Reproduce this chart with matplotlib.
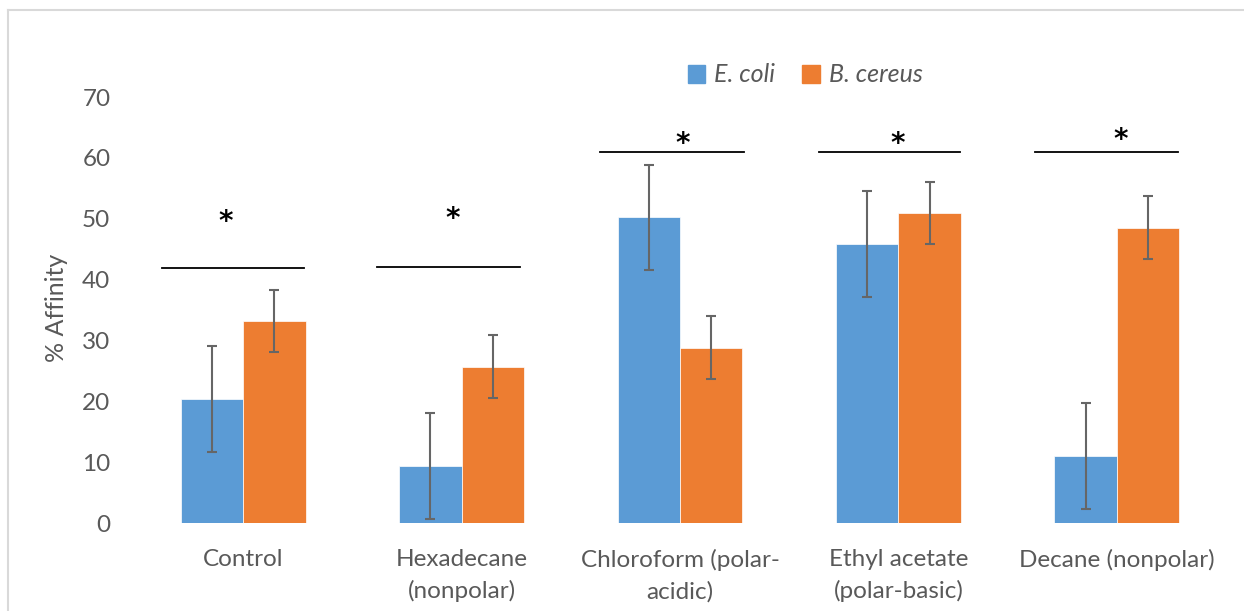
import numpy as np
import matplotlib
matplotlib.use('Agg')
from matplotlib import pyplot as plt
from matplotlib.patches import Patch
from matplotlib.lines import Line2D

# values
categories = ['Control', 'Hexadecane\n(nonpolar)', 'Chloroform (polar-\nacidic)',
              'Ethyl acetate\n(polar-basic)', 'Decane (nonpolar)']
ecoli = [20.4, 9.3, 50.2, 45.8, 11.0]
ecoli_err = [8.7, 8.7, 8.7, 8.7, 8.7]
bcereus = [33.2, 25.7, 28.8, 50.9, 48.5]
bcereus_err = [5.15, 5.15, 5.15, 5.1, 5.2]

# significance brackets (start, end, height) and star positions
sig_x0 = [-0.371, 0.613, 1.634, 2.636, 3.625]
sig_x1 = [0.279, 1.268, 2.293, 3.281, 4.279]
sig_y = [41.9, 42.1, 61.0, 61.0, 61.0]
star_x = [-0.082, 0.961, 2.014, 2.998, 4.018]
star_y = [49.5, 49.9, 62.3, 62.3, 63.0]

blue = '#5B9BD5'
orange = '#ED7D31'
grey = '#595959'
font = 'Lato'

fig = plt.figure(figsize=(12.44, 6.11), dpi=100)
ax = fig.add_axes([134/1244, 1 - 523/611, (1226 - 134)/1244, (523 - 97)/611])

x = np.arange(len(categories))
w = 0.286
ax.bar(x - w/2, ecoli, w, color=blue, edgecolor='white', linewidth=0.5)
ax.bar(x + w/2, bcereus, w, color=orange, edgecolor='white', linewidth=0.5)
ax.errorbar(x - w/2, ecoli, yerr=ecoli_err, fmt='none', ecolor='#666666',
            elinewidth=1.5, capsize=3.5, capthick=1.5)
ax.errorbar(x + w/2, bcereus, yerr=bcereus_err, fmt='none', ecolor='#666666',
            elinewidth=1.5, capsize=3.5, capthick=1.5)

for i in range(len(categories)):
    ax.plot([sig_x0[i], sig_x1[i]], [sig_y[i], sig_y[i]], color='black', lw=1.3, clip_on=False)
    ax.text(star_x[i], star_y[i], '*', ha='center', va='center', fontsize=20,
            fontweight='bold', color='black', family='DejaVu Sans')

ax.set_xlim(-0.5, 4.5)
ax.set_ylim(0, 70)
ax.set_yticks(np.arange(0, 71, 10))
ax.set_xticks(x)
ax.set_xticklabels(categories, family=font, fontsize=17.5, color=grey, linespacing=1.55)
for lab in ax.get_yticklabels():
    lab.set_family(font)
    lab.set_fontsize(17.5)
    lab.set_color(grey)
ax.tick_params(axis='y', length=0, pad=17)
ax.tick_params(axis='x', length=0, pad=19)
for s in ax.spines.values():
    s.set_visible(False)

fig.text(57/1244, 1 - 308/611, '% Affinity', rotation=90, ha='center', va='center',
         family=font, fontsize=18, color=grey)

handles = [Patch(color=blue), Patch(color=orange)]
fig.legend(handles, ['E. coli', 'B. cereus'], loc='center', bbox_to_anchor=(805/1244, 1 - 75/611),
           ncol=2, frameon=False, handlelength=0.7, handleheight=0.7, handletextpad=0.35,
           columnspacing=1.1, prop={'family': font, 'style': 'italic', 'size': 18},
           labelcolor=grey)

# light chart-area border on the left and top
fig.add_artist(Line2D([8/1244, 8/1244], [0, 1 - 10/611], color='#d9d9d9', lw=1.5))
fig.add_artist(Line2D([8/1244, 1], [1 - 10/611, 1 - 10/611], color='#d9d9d9', lw=1.5))

fig.savefig('out.png', dpi=100)
